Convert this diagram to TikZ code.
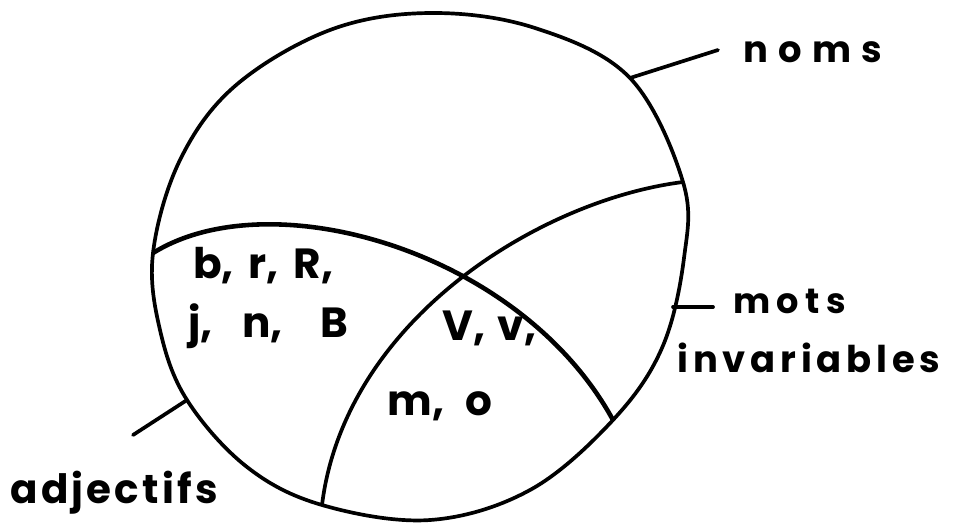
\documentclass[tikz,border=0pt]{standalone}
\usepackage{fontspec}
\setmainfont{Poppins}
\usepackage{tikz}
\usetikzlibrary{positioning}

\begin{document}
\begin{tikzpicture}[
  x=0.02cm, y=-0.02cm,
  outline/.style={line width=2.1pt, line join=round},
  split/.style={line width=2.6pt},
  leader/.style={line width=2.1pt, line cap=round},
  word/.style={anchor=base west, inner sep=0pt},
  letters/.style={font=\fontsize{24}{29}\selectfont\bfseries, anchor=base west, inner sep=0pt}
]
\useasboundingbox (0,0) rectangle (957,522);

% points where the parts meet the outline
\coordinate (aleft)  at (153,253);
\coordinate (aright) at (613,420);
\coordinate (bfoot)  at (322,505);
\coordinate (bright) at (683,182);
\coordinate (nomsfoot) at (630,78);
\coordinate (motsfoot) at (673,307);
\coordinate (adjfoot)  at (187,400);

% outline
\draw[outline] plot[smooth cycle, tension=0.6] coordinates {
  (430,13) (535,28) (630,78) (683,182) (684,258) (662,348)
  (613,420) (530,490) (430,520) (322,505) (247,467) (187,400)
  (160,330) (153,253) (180,160) (235,86) (330,30)};

% the two dividing curves
\draw[split] (aleft) .. controls (270,180) and (520,250) .. (aright);
\draw[outline] (bfoot) .. controls (345,320) and (540,200) .. (bright);

% labels round the outline
\node[word, font=\fontsize{21}{25}\selectfont\bfseries\addfontfeatures{LetterSpace=28}] (noms) at (743,62) {noms};
\node[word, font=\fontsize{20}{24}\selectfont\bfseries\addfontfeatures{LetterSpace=18}] (mots) at (733,313) {mots};
\node[word, font=\fontsize{21}{25}\selectfont\bfseries\addfontfeatures{LetterSpace=13}] (invar) at (677,372) {invariables};
\node[word, font=\fontsize{23}{28}\selectfont\bfseries\addfontfeatures{LetterSpace=8}] (adj) at (10,503) {adjectifs};

\coordinate (nomstip) at (718,50);
\coordinate (motstip) at (713,307);
\coordinate (adjtip)  at (133,435);
\draw[leader] (nomsfoot) -- (nomstip);
\draw[leader] (motsfoot) -- (motstip);
\draw[leader] (adjfoot) -- (adjtip);

% letters in each part
\node[letters] (brR) at (193,278) {b,\hspace{0.35em}r,\hspace{0.35em}R,};
\node[letters] (jnB) at (188,337) {j,\hspace{0.7em}n,\hspace{0.9em}B};
\node[letters] (Vv)  at (442,340) {V,\hspace{0.3em}v,};
\node[letters] (mo)  at (387,415) {m,\hspace{0.5em}o};
\end{tikzpicture}
\end{document}
